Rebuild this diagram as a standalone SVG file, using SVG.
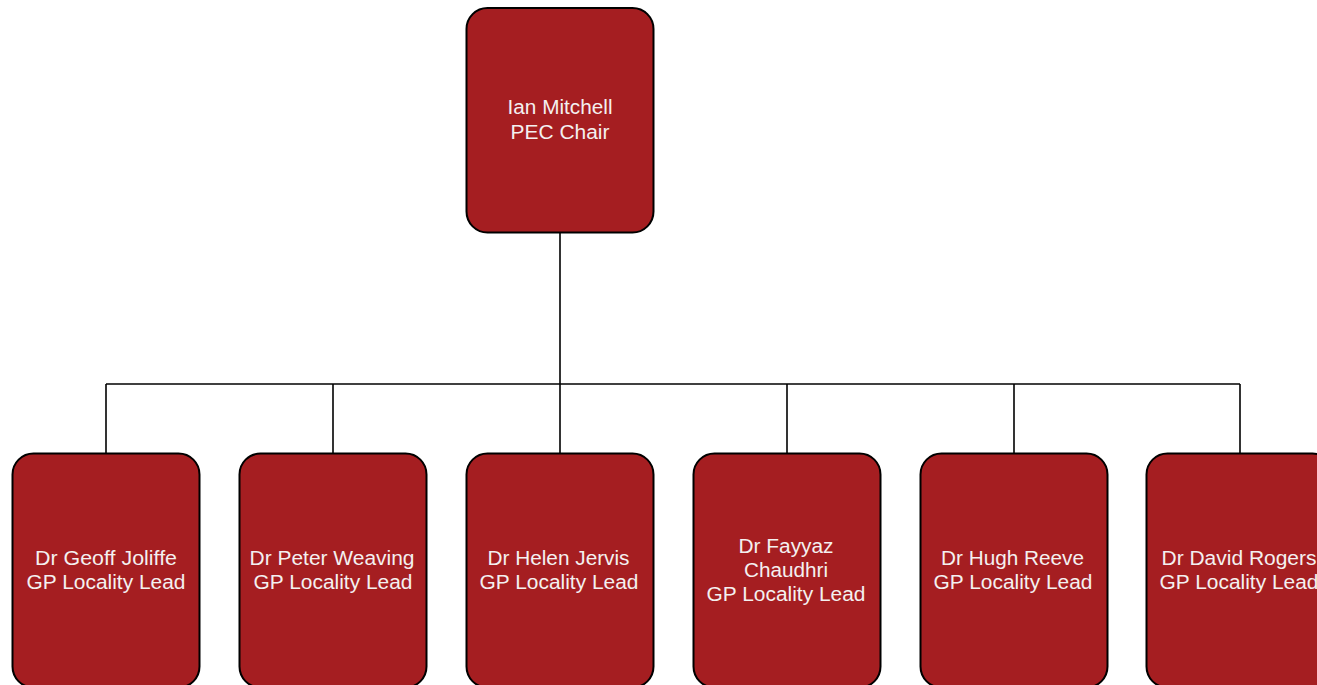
<svg xmlns="http://www.w3.org/2000/svg" width="1317" height="685" viewBox="0 0 1317 685">
  <style>
    .box { fill: #A51E21; stroke: #000000; stroke-width: 2; }
    .lbl { fill: #F4F0F0; font-family: "Liberation Sans", Arial, sans-serif; font-size: 20px; text-anchor: middle; }
    .wire { fill: none; stroke: #000000; stroke-width: 1.6; }
  </style>
  <rect width="1317" height="685" fill="#FFFFFF"/>

  <!-- connectors -->
  <g id="connectors">
    <path class="wire" d="M560 233 V384"/>
    <path class="wire" d="M106 384 H1240"/>
    <path class="wire" d="M106 384 V453"/>
    <path class="wire" d="M333 384 V453"/>
    <path class="wire" d="M560 384 V453"/>
    <path class="wire" d="M787 384 V453"/>
    <path class="wire" d="M1014 384 V453"/>
    <path class="wire" d="M1240 384 V453"/>
  </g>

  <!-- chair -->
  <g id="node-chair">
    <rect class="box" x="466.5" y="8" width="187" height="224.5" rx="21"/>
    <text class="lbl" x="560" y="114" textLength="105" lengthAdjust="spacingAndGlyphs">Ian Mitchell</text>
    <text class="lbl" x="560" y="139" textLength="99" lengthAdjust="spacingAndGlyphs">PEC Chair</text>
  </g>

  <!-- locality leads -->
  <g id="node-jolliffe">
    <rect class="box" x="12.5" y="453.5" width="187" height="234" rx="21"/>
    <text class="lbl" x="106" y="564.5" textLength="142" lengthAdjust="spacingAndGlyphs">Dr Geoff Joliffe</text>
    <text class="lbl" x="106" y="589" textLength="159" lengthAdjust="spacingAndGlyphs">GP Locality Lead</text>
  </g>
  <g id="node-weaving">
    <rect class="box" x="239.5" y="453.5" width="187" height="234" rx="21"/>
    <text class="lbl" x="332" y="564.5" textLength="165" lengthAdjust="spacingAndGlyphs">Dr Peter Weaving</text>
    <text class="lbl" x="333" y="589" textLength="159" lengthAdjust="spacingAndGlyphs">GP Locality Lead</text>
  </g>
  <g id="node-jervis">
    <rect class="box" x="466.5" y="453.5" width="187" height="234" rx="21"/>
    <text class="lbl" x="558.5" y="564.5" textLength="142" lengthAdjust="spacingAndGlyphs">Dr Helen Jervis</text>
    <text class="lbl" x="559" y="589" textLength="159" lengthAdjust="spacingAndGlyphs">GP Locality Lead</text>
  </g>
  <g id="node-chaudhri">
    <rect class="box" x="693.5" y="453.5" width="187" height="234" rx="21"/>
    <text class="lbl" x="786" y="552.5" textLength="95" lengthAdjust="spacingAndGlyphs">Dr Fayyaz</text>
    <text class="lbl" x="786" y="577" textLength="84" lengthAdjust="spacingAndGlyphs">Chaudhri</text>
    <text class="lbl" x="786" y="601" textLength="159" lengthAdjust="spacingAndGlyphs">GP Locality Lead</text>
  </g>
  <g id="node-reeve">
    <rect class="box" x="920.5" y="453.5" width="187" height="234" rx="21"/>
    <text class="lbl" x="1012.5" y="564.5" textLength="143" lengthAdjust="spacingAndGlyphs">Dr Hugh Reeve</text>
    <text class="lbl" x="1013" y="589" textLength="159" lengthAdjust="spacingAndGlyphs">GP Locality Lead</text>
  </g>
  <g id="node-rogers">
    <rect class="box" x="1146.5" y="453.5" width="187" height="234" rx="21"/>
    <text class="lbl" x="1239" y="564.5" textLength="155" lengthAdjust="spacingAndGlyphs">Dr David Rogers</text>
    <text class="lbl" x="1239" y="589" textLength="159" lengthAdjust="spacingAndGlyphs">GP Locality Lead</text>
  </g>
</svg>
